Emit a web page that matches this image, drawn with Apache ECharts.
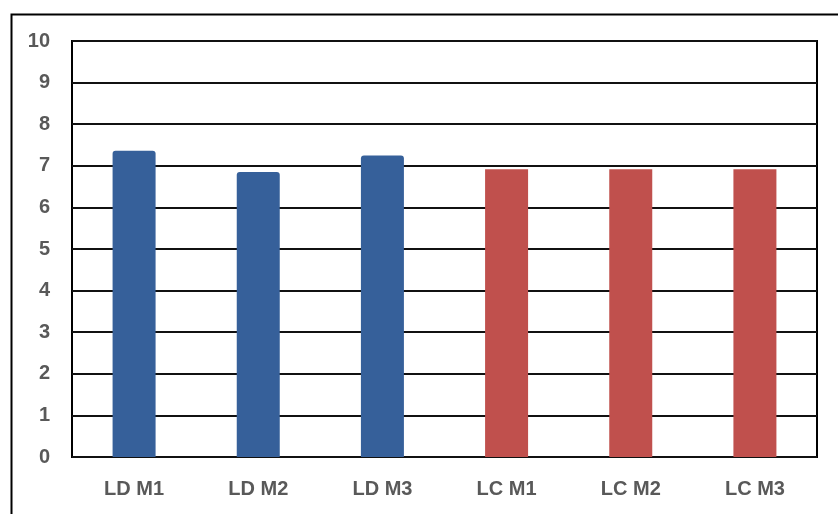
<!DOCTYPE html>
<html><head><meta charset="utf-8">
<script src="https://cdn.jsdelivr.net/npm/echarts@6/dist/echarts.min.js"></script>
<style>html,body{margin:0;padding:0;background:#fff}#c{width:838px;height:514px}</style>
</head><body><div id="c"></div>
<script>
const categories = ['LD M1', 'LD M2', 'LD M3', 'LC M1', 'LC M2', 'LC M3'];
const values = [7.36, 6.85, 7.25, 6.92, 6.92, 6.92];
const groups = ['LD', 'LD', 'LD', 'LC', 'LC', 'LC'];
const groupColors = { LD: '#36609A', LC: '#C0504D' };

const chart = echarts.init(document.getElementById('c'), null, { renderer: 'canvas' });
chart.setOption({
  animation: false,
  backgroundColor: '#fff',
  graphic: [{
    type: 'rect', left: 9, top: 12, silent: true,
    shape: { width: 840, height: 520 },
    style: { fill: 'none', stroke: '#000', lineWidth: 2 }
  }],
  grid: { left: 72, top: 41, right: 21, bottom: 57, show: true, borderColor: '#000', borderWidth: 2, backgroundColor: 'transparent' },
  xAxis: {
    type: 'category', data: categories,
    axisLine: { show: false }, axisTick: { show: false },
    axisLabel: { color: '#595959', fontFamily: 'Liberation Sans', fontWeight: 'bold', fontSize: 20, margin: 22 }
  },
  yAxis: {
    type: 'value', min: 0, max: 10, interval: 1,
    axisLine: { show: false }, axisTick: { show: false },
    axisLabel: { color: '#595959', fontFamily: 'Liberation Sans', fontWeight: 'bold', fontSize: 20, margin: 22 },
    splitLine: { lineStyle: { color: '#111', width: 2 } }
  },
  series: [{
    type: 'bar', barWidth: 43,
    data: values.map((v, i) => ({
      value: v,
      itemStyle: { color: groupColors[groups[i]], borderRadius: groups[i] === 'LD' ? [3, 3, 0, 0] : 0 }
    }))
  }]
});
</script></body></html>
